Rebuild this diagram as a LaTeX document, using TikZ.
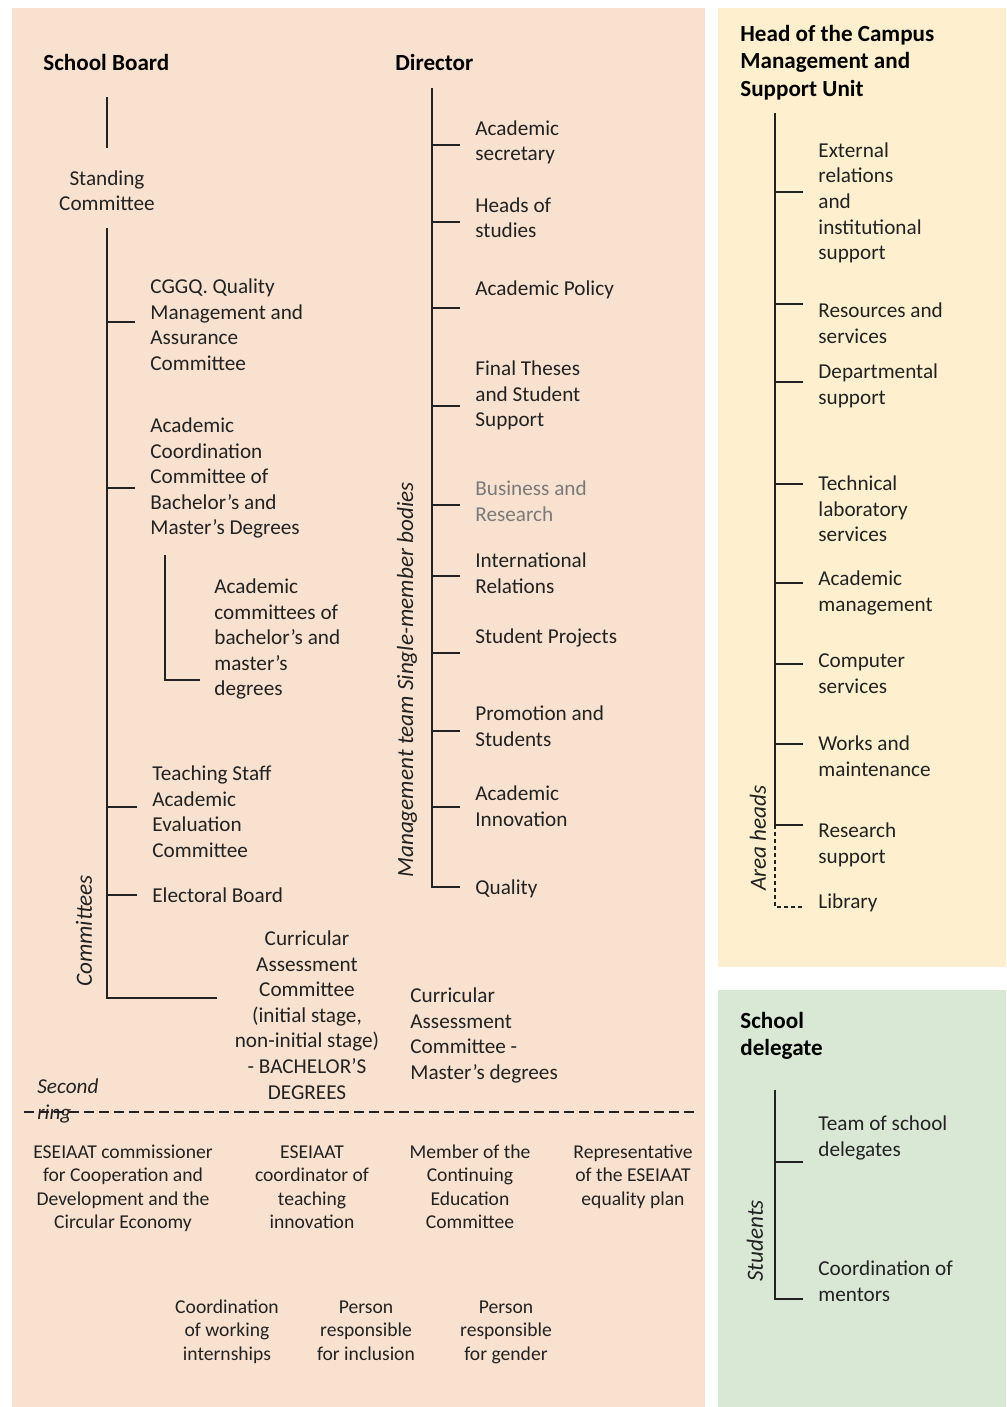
\documentclass[tikz,border=0pt]{standalone}
\usepackage{fontspec}
\setmainfont{Carlito}
\definecolor{peach}{HTML}{F9E1CF}
\definecolor{yel}{HTML}{FEF0CE}
\definecolor{grn}{HTML}{D9E8D4}
\definecolor{ink}{HTML}{222222}
\definecolor{greytxt}{HTML}{7A7A7A}
\newcommand\fbody{\fontsize{10.6}{12.8}\selectfont}
\newcommand\fhead{\fontsize{11.55}{13.75}\selectfont\bfseries}
\newcommand\fsmall{\fontsize{9.8}{11.65}\selectfont}
\newcommand\frot{\fontsize{11.6}{13}\selectfont\itshape}
\begin{document}
\begin{tikzpicture}[x=0.5pt,y=-0.5pt,
  txt/.style={anchor=north west,inner sep=0pt,align=left,font=\fbody,text=ink},
  ctxt/.style={anchor=north,inner sep=0pt,align=center,font=\fbody,text=ink},
  hdr/.style={anchor=north west,inner sep=0pt,align=left,font=\fhead,text=black},
  btxt/.style={anchor=north,inner sep=0pt,align=center,font=\fsmall,text=ink},
  rot/.style={rotate=90,inner sep=0pt,font=\frot,text=ink},
  conn/.style={draw=ink,line width=0.65pt},
  dconn/.style={draw=ink,line width=0.65pt,dash pattern=on 2pt off 1.5pt},
]
\useasboundingbox (0,0) rectangle (1006,1407);
\fill[white] (0,0) rectangle (1006,1407);
\fill[peach] (12,8) rectangle (705,1407);
\fill[yel] (718,8) rectangle (1006,967);
\fill[grn] (718,990) rectangle (1006,1407);

% ---------- headers ----------
\node[hdr] (sb) at (43,70-19.25) {\strut School Board};
\node[hdr] (dir) at (395,70-19.25) {\strut Director};
\node[hdr] (head) at (740,41-19.25) {\strut Head of the Campus\\Management and\\Support Unit};
\node[hdr] (sdel) at (740,1028-19.25) {\strut School\\delegate};

% ---------- School Board column ----------
\node[ctxt] (stc) at (107,185-17.92) {\strut Standing\\Committee};
\node[txt] (cggq) at (150,293-17.92) {\strut CGGQ. Quality\\Management and\\Assurance\\Committee};
\node[txt] (acc) at (150,432-17.92) {\strut Academic\\Coordination\\Committee of\\Bachelor’s and\\Master’s Degrees};
\node[txt] (accs) at (214,593-17.92) {\strut Academic\\committees of\\bachelor’s and\\master’s\\degrees};
\node[txt] (tsa) at (152,780-17.92) {\strut Teaching Staff\\Academic\\Evaluation\\Committee};
\node[txt] (eb) at (152,902-17.92) {\strut Electoral Board};
\node[ctxt] (cac) at (307,945-17.92) {\strut Curricular\\Assessment\\Committee\\(initial stage,\\non-initial stage)\\- BACHELOR’S\\DEGREES};
\node[txt] (cacm) at (410,1002-17.92) {\strut Curricular\\Assessment\\Committee -\\Master’s degrees};
\node[txt,font=\fbody\itshape] (ring) at (37,1093-17.92) {\strut Second\\ring};
\node[rot] (cmt) at (84,931) {Committees};

\coordinate (sbT) at (107,97);
\coordinate (sbB) at (107,148);
\draw[conn] (sbT) -- (sbB);
\coordinate (scT) at (107,228);
\coordinate (scB) at (107,998);
\coordinate (scE) at (217,998);
\draw[conn] (scT) -- (scB) -- (scE);
\coordinate (bcg) at (135,322);
\coordinate (bac) at (135,488);
\coordinate (bts) at (137,807);
\coordinate (beb) at (137,895);
\foreach \b in {bcg,bac,bts,beb} \draw[conn] (\b) -- (\b -| scT);
\coordinate (subT) at (165,555);
\coordinate (subB) at (165,680);
\coordinate (subE) at (200,680);
\draw[conn] (subT) -- (subB) -- (subE);

% ---------- Director column ----------
\node[txt] (as) at (475,135-17.92) {\strut Academic\\secretary};
\node[txt] (hs) at (475,212-17.92) {\strut Heads of\\studies};
\node[txt] (ap) at (475,295-17.92) {\strut Academic Policy};
\node[txt] (ft) at (475,375-17.92) {\strut Final Theses\\and Student\\Support};
\node[txt,text=greytxt] (br) at (475,495-17.92) {\strut Business and\\Research};
\node[txt] (ir) at (475,567-17.92) {\strut International\\Relations};
\node[txt] (sp) at (475,643-17.92) {\strut Student Projects};
\node[txt] (ps) at (475,720-17.92) {\strut Promotion and\\Students};
\node[txt] (ai) at (475,800-17.92) {\strut Academic\\Innovation};
\node[txt] (q) at (475,894-17.92) {\strut Quality};
\node[rot] (mt) at (407,680) {Management team Single-member bodies};

\coordinate (dT) at (432,88);
\coordinate (dB) at (432,887);
\coordinate (dE) at (460,887);
\draw[conn] (dT) -- (dB) -- (dE);
\foreach \y [count=\i] in {145,222,308,406,505,576,653,731,807}{
  \coordinate (db\i) at (460,\y);
  \draw[conn] (db\i) -- (db\i -| dT);
}

% ---------- Campus management column ----------
\node[txt] (er) at (818,157-17.92) {\strut External\\relations\\and\\institutional\\support};
\node[txt] (rs) at (818,317-17.92) {\strut Resources and\\services};
\node[txt] (dsu) at (818,378-17.92) {\strut Departmental\\support};
\node[txt] (tl) at (818,490-17.92) {\strut Technical\\laboratory\\services};
\node[txt] (am) at (818,585-17.92) {\strut Academic\\management};
\node[txt] (cs) at (818,667-17.92) {\strut Computer\\services};
\node[txt] (wm) at (818,750-17.92) {\strut Works and\\maintenance};
\node[txt] (rsu) at (818,837-17.92) {\strut Research\\support};
\node[txt] (lib) at (818,908-17.92) {\strut Library};
\node[rot] (ah) at (758,838) {Area heads};

\coordinate (hT) at (775,113);
\coordinate (hB) at (775,825);
\coordinate (hD) at (775,907);
\coordinate (hL) at (803,907);
\draw[conn] (hT) -- (hB);
\draw[dconn] (hB) -- (hD) -- (hL);
\foreach \y [count=\i] in {192,304,382,484,583,664,744,825}{
  \coordinate (hb\i) at (803,\y);
  \draw[conn] (hb\i) -- (hb\i -| hT);
}

% ---------- School delegate ----------
\node[txt] (tsd) at (818,1130-17.92) {\strut Team of school\\delegates};
\node[txt] (com) at (818,1275-17.92) {\strut Coordination of\\mentors};
\node[rot] (stu) at (755,1241) {Students};
\coordinate (gT) at (775,1090);
\coordinate (gB) at (775,1299);
\coordinate (gE) at (803,1299);
\coordinate (gb) at (803,1162);
\draw[conn] (gT) -- (gB) -- (gE);
\draw[conn] (gb) -- (gb -| gT);

% ---------- Second ring ----------
\coordinate (sepL) at (24,1112);
\coordinate (sepR) at (695,1112);
\draw[draw=ink,line width=0.6pt,dash pattern=on 4.75pt off 2.75pt] (sepL) -- (sepR);

\node[btxt] (r1) at (123,1158-16.3) {\strut ESEIAAT commissioner\\for Cooperation and\\Development and the\\Circular Economy};
\node[btxt] (r2) at (312,1158-16.3) {\strut ESEIAAT\\coordinator of\\teaching\\innovation};
\node[btxt] (r3) at (470,1158-16.3) {\strut Member of the\\Continuing\\Education\\Committee};
\node[btxt] (r4) at (633,1158-16.3) {\strut Representative\\of the ESEIAAT\\equality plan};
\node[btxt] (s1) at (227,1313-16.3) {\strut Coordination\\of working\\internships};
\node[btxt] (s2) at (366,1313-16.3) {\strut Person\\responsible\\for inclusion};
\node[btxt] (s3) at (506,1313-16.3) {\strut Person\\responsible\\for gender};
\end{tikzpicture}
\end{document}
